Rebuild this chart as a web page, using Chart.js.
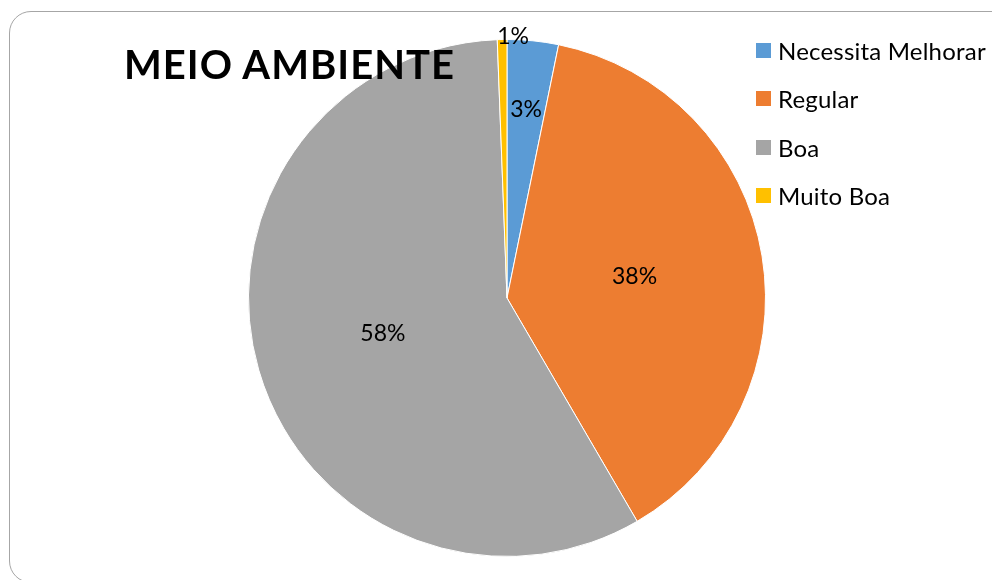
<!DOCTYPE html>
<html>
<head>
<meta charset="utf-8">
<script src="https://cdn.jsdelivr.net/npm/chart.js@4"></script>
<style>
    body { margin: 0; background: #fff; }
    #box { position: relative; width: 992px; height: 580px; overflow: hidden; font-family: Lato, sans-serif; }
    #moldura { position: absolute; left: 9px; top: 11px; width: 1100px; height: 570px; border: 1px solid #a6a6a6; border-radius: 22px; }
    #titulo { position: absolute; left: 124px; top: 44px; font-size: 40px; letter-spacing: 1px; font-weight: bold; line-height: 1; color: #000; white-space: nowrap; }
    .quad { position: absolute; left: 756px; width: 15px; height: 15px; }
    .txt { position: absolute; left: 778px; font-size: 24px; letter-spacing: 0.2px; line-height: 1; color: #000; white-space: nowrap; }
    canvas { position: absolute; left: 0; top: 0; }
</style>
</head>
<body>
<div id="box">
    <div id="moldura"></div>
    <canvas id="meio-ambiente" width="992" height="580"></canvas>
    <div id="titulo">MEIO AMBIENTE</div>
    <div id="legenda"></div>
</div>
<script>
// dados
const categorias = ['Necessita Melhorar', 'Regular', 'Boa', 'Muito Boa'];
const valores = [3.2, 38.4, 57.8, 0.6];
const cores = ['#5b9bd5', '#ed7d31', '#a5a5a5', '#ffc000'];

// legenda em html
const legenda = document.getElementById('legenda');
categorias.forEach(function (nome, i) {
    const topo = 43 + i * 48.3;
    const q = document.createElement('div');
    q.className = 'quad';
    q.style.top = topo + 'px';
    q.style.background = cores[i];
    legenda.appendChild(q);
    const t = document.createElement('div');
    t.className = 'txt';
    t.style.top = (topo - 4.1) + 'px';
    t.innerText = nome;
    legenda.appendChild(t);
});

// rotulos de porcentagem (posicao estilo excel)
const rotulos = {
    id: 'rotulos',
    afterDatasetsDraw(chart) {
        const ctx = chart.ctx;
        const total = valores.reduce((a, b) => a + b, 0);
        const fator = [0.733, 0.5, 0.5, 1.01];
        const desloc = [0, 0, 0, 11];
        ctx.save();
        ctx.font = '23px Lato, sans-serif';
        ctx.fillStyle = '#000';
        ctx.textAlign = 'center';
        ctx.textBaseline = 'middle';
        chart.getDatasetMeta(0).data.forEach(function (arco, i) {
            const p = arco.getProps(['x', 'y', 'startAngle', 'endAngle', 'outerRadius'], true);
            const meio = (p.startAngle + p.endAngle) / 2;
            const r = p.outerRadius * fator[i];
            const x = p.x + Math.cos(meio) * r + desloc[i];
            const y = p.y + Math.sin(meio) * r;
            ctx.fillText(Math.round(valores[i] / total * 100) + '%', x, y);
        });
        ctx.restore();
    }
};

// grafico
const Meio = document.getElementById('meio-ambiente');

new Chart(Meio, {
    type: 'pie',
    data: {
        labels: categorias,
        datasets: [{
            data: valores,
            backgroundColor: cores,
            borderColor: '#ffffff',
            borderWidth: 1
        }]
    },
    options: {
        responsive: false,
        animation: false,
        layout: {
            padding: { left: 248, right: 226, top: 39, bottom: 23 }
        },
        plugins: {
            legend: { display: false },
            tooltip: { enabled: false }
        }
    },
    plugins: [rotulos]
});
</script>
</body>
</html>
